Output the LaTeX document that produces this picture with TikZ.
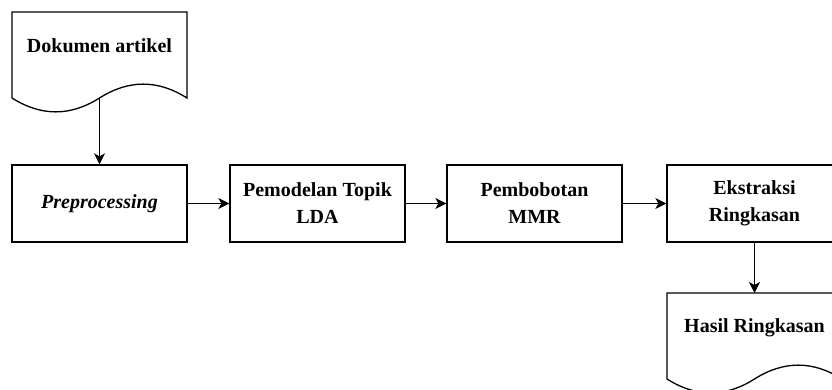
\documentclass[tikz,border=0pt]{standalone}
\usepackage{fontspec}
\setmainfont{Liberation Serif}
\usetikzlibrary{arrows.meta}
\begin{document}
\begin{tikzpicture}[x=1pt,y=-1pt,
 box/.style={draw,line width=1.3pt,minimum width=175pt,minimum height=77pt,inner sep=0pt,align=center,font=\fontsize{20}{27}\selectfont\bfseries},
 lbl/.style={align=center,font=\fontsize{20}{27}\selectfont\bfseries},
 conn/.style={line width=1.3pt,-{Stealth[length=11pt,width=11pt,inset=3pt]}},
 docline/.style={draw,line width=1.3pt,line join=miter},
 docshape/.pic={\draw[docline] (0,86) -- (0,0) -- (175,0) -- (175,86)
   .. controls (145.8,67.5) and (116.7,67.5) .. (87.5,86)
   .. controls (58.3,104.5) and (29.2,104.5) .. (0,86) -- cycle;
   \coordinate (-bot) at (87.5,86);}]
\useasboundingbox (0,0) rectangle (832,390);
\clip (0,0) rectangle (832,390);
\pic (d1) at (12,12) {docshape};
\node[lbl] (d1t) at (99.5,46) {Dokumen artikel};
\node[box] (pre) at (99.5,203.5) {\textit{Preprocessing}};
\node[box] (lda) at (317.5,203.5) {Pemodelan Topik\\LDA};
\node[box] (mmr) at (534.5,203.5) {Pembobotan\\MMR};
\node[box] (eks) at (754.5,203.5) {Ekstraksi\\Ringkasan};
\pic (d2) at (667,293) {docshape};
\node[lbl] (d2t) at (754.5,328) {Hasil Ringkasan};
\draw[conn] (d1-bot) -- (pre);
\draw[conn] (pre) -- (lda);
\draw[conn] (lda) -- (mmr);
\draw[conn] (mmr) -- (eks);
\draw[conn] (eks) -- (d2t.north |- 0,293);
\end{tikzpicture}
\end{document}
